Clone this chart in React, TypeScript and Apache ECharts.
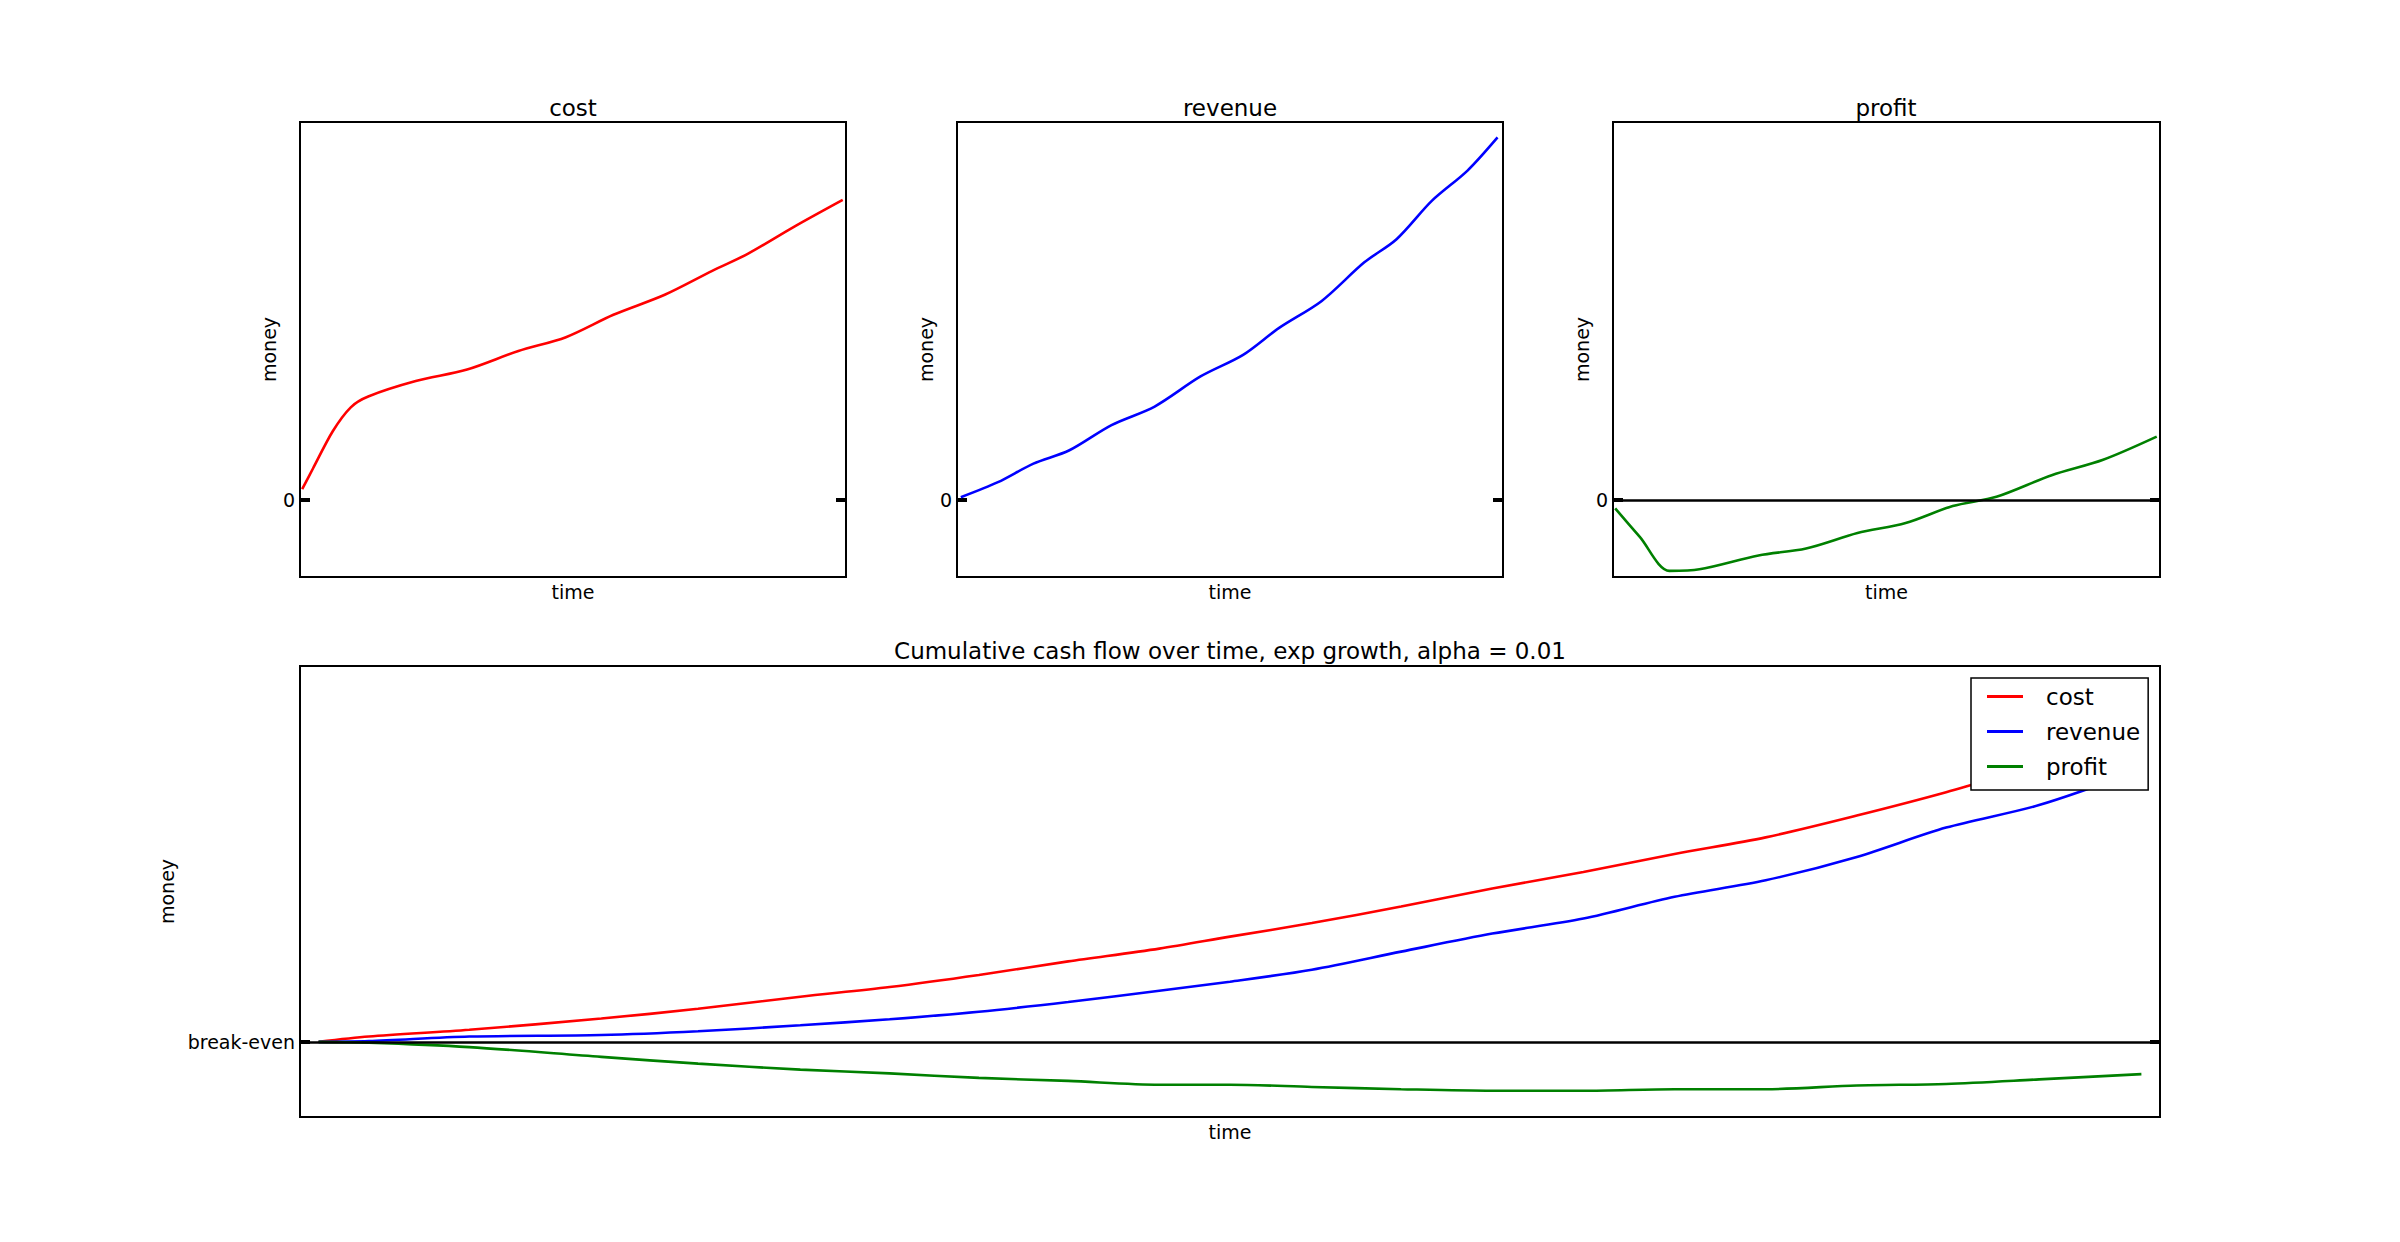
import React, { useEffect, useRef } from "react";
import * as echarts from "echarts";

// ---- top panels (each value) ----
const costTime = [0.4, 2.4, 6, 9.3, 12.5, 21.2, 30.6, 40, 48.7, 57.4, 66.8, 75.5, 82, 90.7, 99.4];
const costValue = [1.4, 4.1, 8.9, 12.0, 13.4, 15.4, 16.9, 19.3, 21.1, 24.0, 26.6, 29.7, 31.9, 35.5, 38.9];

const revenueTime = [0.7, 7.5, 14, 20.5, 28.3, 36.2, 44.6, 52.4, 59, 66.8, 74.6, 80.5, 87, 93.5, 99];
const revenueValue = [0.35, 2.3, 4.7, 6.4, 9.7, 12.1, 16.0, 18.8, 22.3, 25.8, 30.8, 33.8, 38.8, 42.7, 47.0];

const profitTime = [0.4, 4.9, 10.3, 15.8, 26.6, 35.3, 44.7, 53.5, 62.1, 70.1, 80.2, 89.6, 99.4];
const profitValue = [-1.1, -4.8, -9.2, -9.0, -7.2, -6.3, -4.3, -3.0, -0.8, 0.4, 3.2, 5.2, 8.2];

// ---- bottom panel: cumulative cash flow ----
const cumTime = [1, 3.7, 9.1, 16.2, 21.4, 26.9, 31.7, 36.5, 41.3, 46.2, 50, 54.4, 59.2, 64.1, 69.0, 73.9, 78.8, 83.7, 88.5, 93.5, 99];
const cumCost = [0, 0.7, 1.6, 3.1, 4.4, 6.0, 7.3, 8.9, 10.7, 12.4, 14.0, 15.8, 18.0, 20.4, 22.6, 25.0, 27.2, 30.1, 33.2, 36.8, 40.5];
const cumRevenue = [0, 0.1, 0.7, 0.9, 1.4, 2.2, 3.0, 4.0, 5.3, 6.8, 8.0, 9.6, 12.0, 14.4, 16.4, 19.3, 21.5, 24.6, 28.5, 31.5, 36.2];
const cumProfit = [0, -0.1, -0.7, -2.0, -2.9, -3.7, -4.2, -4.8, -5.2, -5.7, -5.7, -6.0, -6.3, -6.5, -6.5, -6.3, -6.3, -5.8, -5.6, -5.0, -4.3];

const panelTitles = ["cost", "revenue", "profit"];
const mainTitle = "Cumulative cash flow over time, exp growth, alpha = 0.01";
const seriesNames = ["cost", "revenue", "profit"];
const colors = ["#ff0000", "#0000ff", "#008000"];
const yTickLabels = ["0", "0", "0", "break-even"];

const FONT = "DejaVu Sans";

const pairs = (t: number[], v: number[]) => t.map((x, i) => [x, v[i]]);

export default function App() {
  const ref = useRef<HTMLDivElement>(null);
  useEffect(() => {
    if (!ref.current) return;
    const chart = echarts.init(ref.current, null, { renderer: "svg" });

    const grids = [
      { left: 300, top: 122, width: 546, height: 455 },
      { left: 957, top: 122, width: 546, height: 455 },
      { left: 1613, top: 122, width: 547, height: 455 },
      { left: 300, top: 666, width: 1860, height: 451 },
    ];

    const xAxes = grids.map((_, i) => ({
      type: "value",
      gridIndex: i,
      min: 0,
      max: 100,
      axisLine: { show: false },
      axisTick: { show: false },
      axisLabel: { show: false },
      splitLine: { show: false },
      name: "time",
      nameLocation: "middle",
      nameGap: 5,
      nameTextStyle: { fontFamily: FONT, fontSize: 19, color: "#000", verticalAlign: "top" },
    }));

    const tick = {
      show: true,
      inside: true,
      length: 10,
      customValues: [0],
      lineStyle: { color: "#000", width: 4 },
    };

    const yAxes: any[] = [];
    grids.forEach((_, i) => {
      yAxes.push({
        type: "value",
        gridIndex: i,
        min: -10,
        max: i === 3 ? 50 : 49,
        position: "left",
        axisLine: { show: false },
        axisTick: tick,
        axisLabel: {
          show: true,
          customValues: [0],
          formatter: () => yTickLabels[i],
          margin: 5,
          fontFamily: FONT,
          fontSize: 19,
          color: "#000",
        },
        splitLine: { show: false },
        name: "money",
        nameLocation: "middle",
        nameRotate: 90,
        nameGap: i === 3 ? 119 : 22,
        nameTextStyle: { fontFamily: FONT, fontSize: 19, color: "#000" },
      });
      yAxes.push({
        type: "value",
        gridIndex: i,
        min: -10,
        max: i === 3 ? 50 : 49,
        position: "right",
        axisLine: { show: false },
        axisTick: tick,
        axisLabel: { show: false },
        splitLine: { show: false },
      });
    });

    const zeroLine = {
      silent: true,
      symbol: ["none", "none"],
      label: { show: false },
      lineStyle: { color: "#000", width: 2.5, type: "solid" },
      data: [{ yAxis: 0 }],
    };

    const line = (name: string, color: string, data: number[][], idx: number, extra: any = {}) => ({
      type: "line",
      name,
      xAxisIndex: idx,
      yAxisIndex: idx * 2,
      data,
      smooth: 0.3,
      symbol: "none",
      showSymbol: false,
      lineStyle: { color, width: 2.6 },
      itemStyle: { color },
      ...extra,
    });

    const series = [
      line(seriesNames[0], colors[0], pairs(costTime, costValue), 0),
      line(seriesNames[1], colors[1], pairs(revenueTime, revenueValue), 1),
      line(seriesNames[2], colors[2], pairs(profitTime, profitValue), 2, { markLine: zeroLine }),
      line(seriesNames[0], colors[0], pairs(cumTime, cumCost), 3),
      line(seriesNames[1], colors[1], pairs(cumTime, cumRevenue), 3),
      line(seriesNames[2], colors[2], pairs(cumTime, cumProfit), 3, { markLine: zeroLine }),
    ];

    const titleText = (text: string, x: number, y: number) => ({
      type: "text",
      x,
      y,
      z: 10,
      style: {
        text,
        fill: "#000",
        font: `23px "${FONT}"`,
        align: "center",
        verticalAlign: "middle",
      },
    });

    chart.setOption({
      animation: false,
      backgroundColor: "#ffffff",
      grid: grids.map((g) => ({ ...g, show: true, borderColor: "#000", borderWidth: 2, backgroundColor: "transparent", containLabel: false })),
      xAxis: xAxes,
      yAxis: yAxes,
      legend: {
        data: seriesNames,
        orient: "vertical",
        left: 1971,
        top: 678,
        padding: [7, 8, 12, 16],
        icon: "rect",
        itemWidth: 36,
        itemHeight: 3,
        itemGap: 12,
        backgroundColor: "#ffffff",
        borderColor: "#000",
        borderWidth: 1.5,
        textStyle: { fontFamily: FONT, fontSize: 23, color: "#000", padding: [0, 0, 0, 18] },
        selectedMode: false,
      },
      graphic: [
        titleText(panelTitles[0], 573, 108),
        titleText(panelTitles[1], 1230, 108),
        titleText(panelTitles[2], 1886, 108),
        titleText(mainTitle, 1230, 651),
      ],
      series,
    });

    return () => chart.dispose();
  }, []);

  return <div ref={ref} style={{ position: "absolute", left: 0, top: 0, width: 2400, height: 1242 }} />;
}
